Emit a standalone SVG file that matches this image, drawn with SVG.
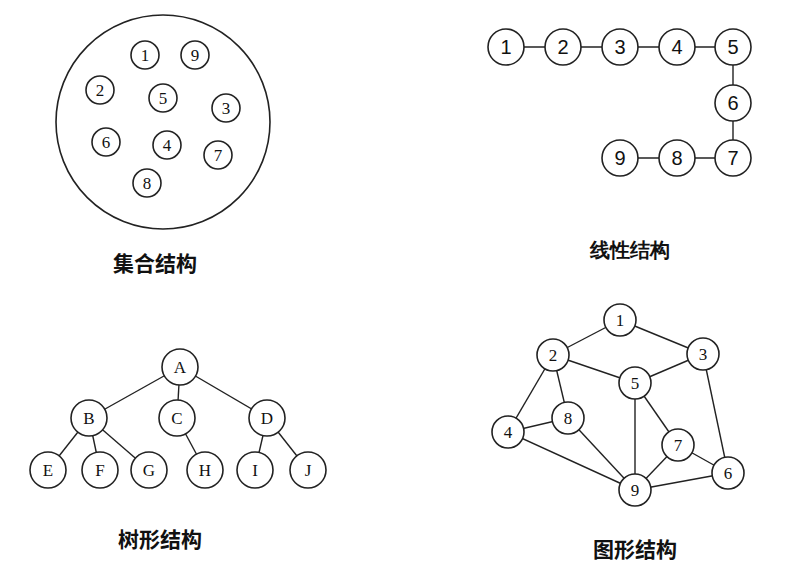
<svg xmlns="http://www.w3.org/2000/svg" width="792" height="581" viewBox="0 0 792 581">
<style>
circle{fill:#fff;stroke:#222;stroke-width:1.6}
.big{fill:none}
line{stroke:#222;stroke-width:1.4}
text{font-family:"Liberation Serif",serif;font-size:17px;text-anchor:middle;dominant-baseline:central;fill:#111}
.lin text{font-family:"Liberation Sans",sans-serif;font-size:20px}
.t{font-family:"Noto Sans CJK SC",sans-serif;font-size:21px;font-weight:bold}
</style>
<rect width="792" height="581" fill="#fff"/>
<g id="set">
<circle class="big" cx="163" cy="122" r="107"/>
<g font-size="15">
<circle cx="145" cy="55" r="14"/><text x="145" y="55">1</text>
<circle cx="195" cy="55" r="14"/><text x="195" y="55">9</text>
<circle cx="100" cy="90" r="14"/><text x="100" y="90">2</text>
<circle cx="163" cy="98" r="14"/><text x="163" y="98">5</text>
<circle cx="226" cy="108" r="14"/><text x="226" y="108">3</text>
<circle cx="106" cy="142" r="14"/><text x="106" y="142">6</text>
<circle cx="167" cy="145" r="14"/><text x="167" y="145">4</text>
<circle cx="218" cy="155" r="14"/><text x="218" y="155">7</text>
<circle cx="147" cy="183" r="14"/><text x="147" y="183">8</text>
</g>
<text class="t" x="155" y="262">集合结构</text>
</g>
<g id="connectors">
<line x1="506" y1="47" x2="733" y2="47"/><line x1="733" y1="47" x2="733" y2="158"/><line x1="733" y1="158" x2="620" y2="158"/>
<line x1="180" y1="367" x2="89" y2="418"/><line x1="180" y1="367" x2="177" y2="418"/><line x1="180" y1="367" x2="267" y2="418"/>
<line x1="89" y1="418" x2="48" y2="470"/><line x1="89" y1="418" x2="100" y2="470"/><line x1="89" y1="418" x2="149" y2="470"/>
<line x1="177" y1="418" x2="205" y2="470"/><line x1="267" y1="418" x2="255" y2="470"/><line x1="267" y1="418" x2="308" y2="470"/>
<line x1="620" y1="320" x2="553" y2="355"/><line x1="620" y1="320" x2="703" y2="354"/>
<line x1="553" y1="355" x2="635" y2="383"/><line x1="703" y1="354" x2="635" y2="383"/>
<line x1="553" y1="355" x2="508" y2="432"/><line x1="553" y1="355" x2="568" y2="418"/>
<line x1="508" y1="432" x2="568" y2="418"/><line x1="508" y1="432" x2="635" y2="490"/>
<line x1="568" y1="418" x2="635" y2="490"/><line x1="635" y1="383" x2="635" y2="490"/>
<line x1="635" y1="383" x2="678" y2="445"/><line x1="678" y1="445" x2="635" y2="490"/>
<line x1="678" y1="445" x2="728" y2="473"/><line x1="703" y1="354" x2="728" y2="473"/>
<line x1="635" y1="490" x2="728" y2="473"/>
</g>
<g id="linear" class="lin">
<circle cx="506" cy="47" r="18"/><text x="506" y="47">1</text>
<circle cx="563" cy="47" r="18"/><text x="563" y="47">2</text>
<circle cx="620" cy="47" r="18"/><text x="620" y="47">3</text>
<circle cx="677" cy="47" r="18"/><text x="677" y="47">4</text>
<circle cx="733" cy="47" r="18"/><text x="733" y="47">5</text>
<circle cx="733" cy="103" r="18"/><text x="733" y="103">6</text>
<circle cx="733" cy="158" r="18"/><text x="733" y="158">7</text>
<circle cx="677" cy="158" r="18"/><text x="677" y="158">8</text>
<circle cx="620" cy="158" r="18"/><text x="620" y="158">9</text>
<text class="t" x="630" y="250">线性结构</text>
</g>
<g id="tree">
<circle cx="180" cy="367" r="18"/><text x="180" y="367">A</text>
<circle cx="89" cy="418" r="18"/><text x="89" y="418">B</text>
<circle cx="177" cy="418" r="18"/><text x="177" y="418">C</text>
<circle cx="267" cy="418" r="18"/><text x="267" y="418">D</text>
<circle cx="48" cy="470" r="18"/><text x="48" y="470">E</text>
<circle cx="100" cy="470" r="18"/><text x="100" y="470">F</text>
<circle cx="149" cy="470" r="18"/><text x="149" y="470">G</text>
<circle cx="205" cy="470" r="18"/><text x="205" y="470">H</text>
<circle cx="255" cy="470" r="18"/><text x="255" y="470">I</text>
<circle cx="308" cy="470" r="18"/><text x="308" y="470">J</text>
<text class="t" x="160" y="538">树形结构</text>
</g>
<g id="graph">
<circle cx="620" cy="320" r="16"/><text x="620" y="320">1</text>
<circle cx="553" cy="355" r="16"/><text x="553" y="355">2</text>
<circle cx="703" cy="354" r="16"/><text x="703" y="354">3</text>
<circle cx="635" cy="383" r="16"/><text x="635" y="383">5</text>
<circle cx="568" cy="418" r="16"/><text x="568" y="418">8</text>
<circle cx="508" cy="432" r="16"/><text x="508" y="432">4</text>
<circle cx="678" cy="445" r="16"/><text x="678" y="445">7</text>
<circle cx="728" cy="473" r="16"/><text x="728" y="473">6</text>
<circle cx="635" cy="490" r="16"/><text x="635" y="490">9</text>
<text class="t" x="635" y="548">图形结构</text>
</g>
</svg>
